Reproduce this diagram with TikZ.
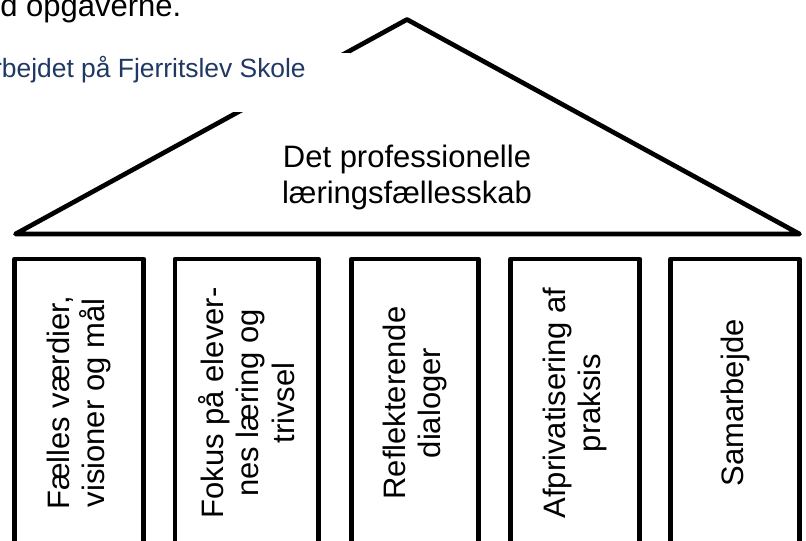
\documentclass[tikz,border=0pt]{standalone}
\usepackage{fontspec}
\setmainfont{Liberation Sans}
\definecolor{subblue}{RGB}{31,56,100}
\newcommand\mainfs{\fontsize{23.25}{26.6}\selectfont}
\newcommand\subfs{\fontsize{19.8}{23}\selectfont}
\begin{document}
\begin{tikzpicture}[x=0.75pt,y=-0.75pt,
  roof/.style={draw=black,line width=3.5pt,line join=round},
  pillar/.style={draw=black,line width=3.5pt,line join=round,rotate=90,
    inner sep=0pt,align=center,font=\mainfs,minimum width=216pt},
  cover/.style={fill=white},
  bodytext/.style={inner sep=0pt,font=\mainfs},
  subtext/.style={inner sep=0pt,font=\subfs,text=subblue}]
\useasboundingbox (0,0) rectangle (806,541);
\clip (0,0) rectangle (806,541);
% roof
\coordinate (L) at (15.5,234);
\coordinate (A) at (407,19.5);
\coordinate (R) at (799.5,234);
\draw[roof] (L) -- (A) -- (R) -- cycle;
% white text box hiding part of the roof
\fill[cover] (-5,53.3) rectangle (350,111.7);
\node[bodytext,anchor=base west] (t1) at (0,17) {d opgaverne.};
\node[subtext,anchor=base east] (t2) at (306,78) {rbejdet på Fjerritslev Skole};
% title
\node[bodytext,align=center] (title) at (407,177.5) {Det professionelle\\læringsfællesskab};
% pillars
\node[pillar,minimum height=96.98pt] (p1) at (79.15,403) {Fælles værdier,\\visioner og mål};
\node[pillar,minimum height=107.5pt] (p2) at (246.65,403) {Fokus på elever-\\nes læring og\\trivsel};
\node[pillar,minimum height=94.95pt] (p3) at (415,403) {Reflekterende\\dialoger};
\node[pillar,minimum height=96.98pt] (p4) at (575.15,403) {Afprivatisering af\\praksis};
\node[pillar,minimum height=96.75pt] (p5) at (735,403) {Samarbejde};
\end{tikzpicture}
\end{document}
